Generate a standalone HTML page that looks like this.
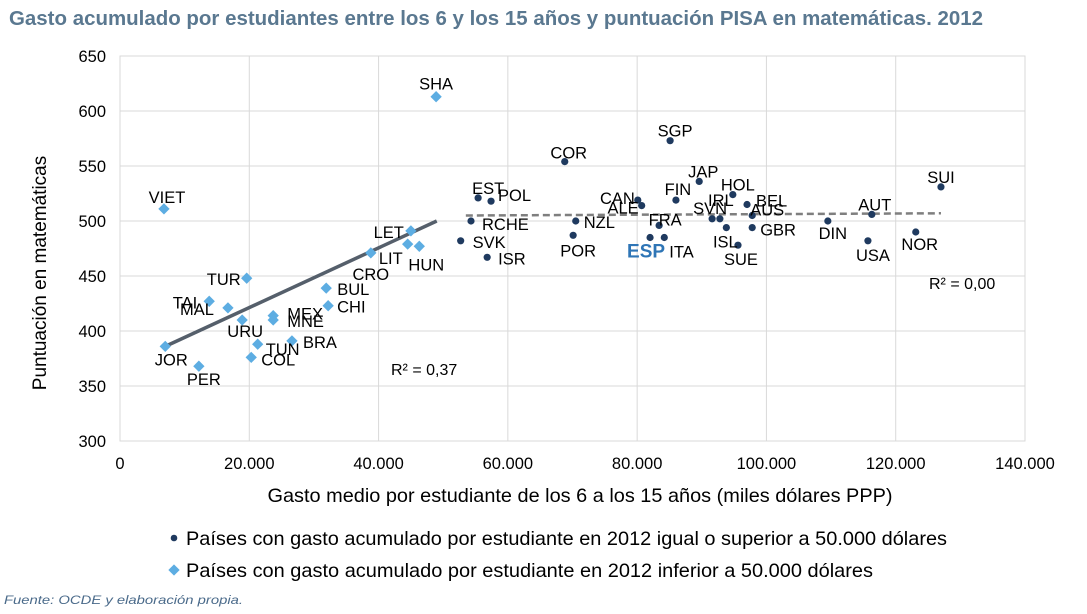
<!DOCTYPE html>
<html><head><meta charset="utf-8"><style>
body{margin:0;background:#fff;font-family:"Liberation Sans",Arial,sans-serif;}
svg text{font-family:"Liberation Sans",Arial,sans-serif;}
</style></head><body>
<svg id="chart" width="1087" height="609" viewBox="0 0 1087 609">
<text x="9" y="25" font-size="20" font-weight="bold" fill="#5a7890" textLength="974" lengthAdjust="spacingAndGlyphs">Gasto acumulado por estudiantes entre los 6 y los 15 años y puntuación PISA en matemáticas. 2012</text>
<g id="grid"></g><g id="axes"></g><g id="trends"></g><g id="marks"></g><g id="labels"></g>
<text x="391" y="375" font-size="16" fill="#000">R² = 0,37</text>
<text x="929" y="289" font-size="16" fill="#000">R² = 0,00</text>
<text x="580" y="502" font-size="19.5" text-anchor="middle" fill="#000" textLength="625" lengthAdjust="spacingAndGlyphs">Gasto medio por estudiante de los 6 a los 15 años (miles dólares PPP)</text>
<text transform="translate(46,273) rotate(-90)" font-size="19" text-anchor="middle" fill="#000">Puntuación en matemáticas</text>
<g><circle cx="174" cy="538" r="3.3" fill="#1f3a5f"/><text x="186" y="545" font-size="19.5" textLength="761" lengthAdjust="spacingAndGlyphs">Países con gasto acumulado por estudiante en 2012 igual o superior a 50.000 dólares</text></g>
<g><rect x="170" y="566" width="8" height="8" fill="#5dade2" transform="rotate(45 174 570)"/><text x="186" y="577" font-size="19.5" textLength="687" lengthAdjust="spacingAndGlyphs">Países con gasto acumulado por estudiante en 2012 inferior a 50.000 dólares</text></g>
<text x="4" y="604" font-size="12" font-style="italic" fill="#4a6a8a" textLength="239" lengthAdjust="spacingAndGlyphs">Fuente: OCDE y elaboración propia.</text>
</svg>
<script>
const xTicks=[0,20000,40000,60000,80000,100000,120000,140000];
const xTickLabels=["0","20.000","40.000","60.000","80.000","100.000","120.000","140.000"];
const yTicks=[300,350,400,450,500,550,600,650];
const lowNames=["SHA","VIET","LET","LIT","HUN","CRO","TUR","TAI","MAL","URU","MEX","MNE","BUL","CHI","TUN","COL","BRA","JOR","PER"];
const lowX=[48.9,6.8,45.0,44.5,46.3,38.8,19.6,13.8,16.7,18.9,23.7,23.7,31.9,32.2,21.3,20.3,26.6,7.0,12.2];
const lowY=[613,511,491,479,477,471,448,427,421,410,414,410,439,423,388,376,391,386,368];
const highNames=["COR","SGP","JAP","FIN","HOL","CAN","ALE","IRL","SVN","BEL","AUS","GBR","ISL","SUE","FRA","ESP","ITA","NZL","POR","EST","POL","RCHE","SVK","ISR","DIN","AUT","USA","NOR","SUI"];
const highX=[68.8,85.1,89.6,86.0,94.8,80.1,80.7,92.8,91.6,97.0,97.8,97.8,93.8,95.6,83.4,82.0,84.2,70.5,70.1,55.4,57.4,54.3,52.7,56.8,109.5,116.3,115.7,123.1,127.0];
const highY=[554,573,536,519,524,519,514,502,502,515,505,494,494,478,496,485,485,500,487,521,518,500,482,467,500,506,482,490,531];
const lowTrendX=[7.0,49.0];
const lowTrendY=[386,500];
const highTrendX=[53.5,127.0];
const highTrendY=[505,507];
const labelOff={SHA:[0,-13,'middle'],VIET:[3,-12,'middle'],LET:[-7,1,'end'],LIT:[-5,14,'end'],HUN:[7,18,'middle'],CRO:[0,21,'middle'],TUR:[-6,1,'end'],TAI:[-12,1,'end'],MAL:[-14,1,'end'],URU:[3,11,'middle'],MEX:[14,-2,'start'],MNE:[14,1,'start'],BUL:[11,1,'start'],CHI:[9,1,'start'],TUN:[8,5,'start'],COL:[10,2,'start'],BRA:[11,1,'start'],JOR:[6,13,'middle'],PER:[5,13,'middle'],
COR:[4,-9,'middle'],SGP:[5,-10,'middle'],JAP:[4,-10,'middle'],FIN:[2,-11,'middle'],HOL:[5,-10,'middle'],CAN:[-3,-2,'end'],ALE:[-3,2,'end'],IRL:[1,-19,'middle'],SVN:[-2,-11,'middle'],BEL:[9,-4,'start'],AUS:[-2,-6,'start'],GBR:[8,2,'start'],ISL:[-1,14,'middle'],SUE:[3,14,'middle'],FRA:[6,-6,'middle'],ESP:[-4,14,'middle'],ITA:[5,14,'start'],NZL:[8,1,'start'],POR:[5,15,'middle'],EST:[10,-10,'middle'],POL:[7,-6,'start'],RCHE:[11,3,'start'],SVK:[12,1,'start'],ISR:[11,1,'start'],DIN:[5,12,'middle'],AUT:[3,-10,'middle'],USA:[5,14,'middle'],NOR:[4,12,'middle'],SUI:[0,-10,'middle']};
const X0=120,X1=1025,Y0=441,Y1=56;
function sx(v){return X0+(v-0)/140000*(X1-X0);}
function sy(v){return Y0-(v-300)/350*(Y0-Y1);}
const NS="http://www.w3.org/2000/svg";
function mk(tag,attrs,parent){const e=document.createElementNS(NS,tag);for(const k in attrs)e.setAttribute(k,attrs[k]);parent.appendChild(e);return e;}
const grid=document.getElementById('grid'),axes=document.getElementById('axes');
xTicks.forEach((t,i)=>{
  const g=mk('line',{x1:sx(t),x2:sx(t),y1:Y1,y2:Y0,stroke:'#d9d9d9','stroke-width':1},grid);
  
  
  const tx=mk('text',{x:sx(t),y:Y0+28,'font-size':16.5,'text-anchor':'middle'},axes);
  tx.textContent=xTickLabels[i];
  
  
});
yTicks.forEach(t=>{
  const g=mk('line',{x1:X0,x2:X1,y1:sy(t),y2:sy(t),stroke:'#d9d9d9','stroke-width':1},grid);
  
  
  const tx=mk('text',{x:X0-14,y:sy(t)+6,'font-size':16.5,'text-anchor':'end'},axes);
  tx.textContent=String(t);
  
  
});
const fr=mk('rect',{x:X0,y:Y1,width:X1-X0,height:Y0-Y1,fill:'none',stroke:'#d9d9d9'},grid);


const tr=document.getElementById('trends');
const l1=mk('line',{x1:sx(lowTrendX[0]*1000),y1:sy(lowTrendY[0]),x2:sx(lowTrendX[1]*1000),y2:sy(lowTrendY[1]),stroke:'#555f6b','stroke-width':3.5},tr);


const l2=mk('line',{x1:sx(highTrendX[0]*1000),y1:sy(highTrendY[0]),x2:sx(highTrendX[1]*1000),y2:sy(highTrendY[1]),stroke:'#7f7f7f','stroke-width':2.5,'stroke-dasharray':'7,4'},tr);


const marks=document.getElementById('marks'),labels=document.getElementById('labels');
function addLabel(n,px,py){
  const o=labelOff[n]||[6,0,'start'];
  const isEsp=n==='ESP';
  const t=mk('text',{x:px+o[0],y:py+o[1]+6,'font-size':isEsp?19:16.5,'text-anchor':o[2],fill:isEsp?'#2e75b6':'#000','font-weight':isEsp?'bold':'normal'},labels);
  t.textContent=n;
  
  
}
lowNames.forEach((n,i)=>{
  const px=sx(lowX[i]*1000),py=sy(lowY[i]);
  const d=mk('rect',{x:px-4,y:py-4,width:8,height:8,fill:'#5dade2',transform:`rotate(45 ${px} ${py})`},marks);
  
  
  addLabel(n,px,py);
});
highNames.forEach((n,i)=>{
  const px=sx(highX[i]*1000),py=sy(highY[i]);
  const c=mk('circle',{cx:px,cy:py,r:3.6,fill:'#1f3a5f'},marks);
  
  
  addLabel(n,px,py);
});
</script>
</body></html>
